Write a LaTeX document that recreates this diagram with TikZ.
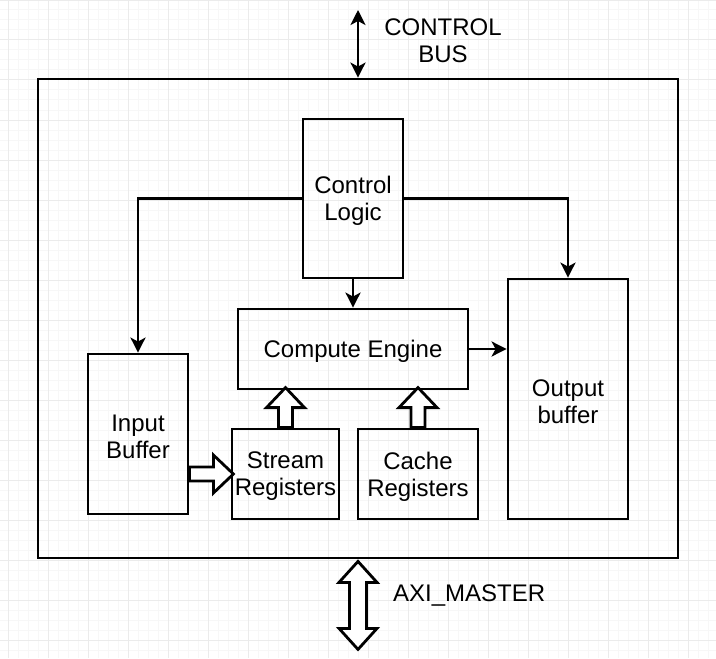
\documentclass[tikz,border=0pt]{standalone}
\usepackage{fontspec}
\setmainfont{Liberation Sans}
\usetikzlibrary{arrows.meta}
\definecolor{minorgrid}{HTML}{F7F7F7}
\definecolor{majorgrid}{HTML}{EBEBEB}
\tikzset{
  lbl/.style={align=center, font=\fontsize{12}{13.5}\selectfont},
  txt/.style={lbl, yshift=-1.3pt},
  blk/.style={draw, line width=1.4pt, inner sep=0pt},
  conn/.style={line width=1.4pt, -{Stealth[length=7.5pt,width=7.5pt,inset=2pt]}},
  pics/blockarrow/.style={code={
    \draw[line width=1.4pt, fill=white] (0,-7) -- (#1-20,-7) -- (#1-20,-19) -- (#1,0)
      -- (#1-20,19) -- (#1-20,7) -- (0,7) -- cycle;}},
  pics/dblockarrow/.style={code={
    \draw[line width=1.4pt, fill=white] (0,0) -- (21,-19) -- (21,-8.5) -- (#1-21,-8.5)
      -- (#1-21,-19) -- (#1,0) -- (#1-21,19) -- (#1-21,8.5) -- (21,8.5) -- (21,19) -- cycle;}}
}
\begin{document}
\begin{tikzpicture}[x=0.5pt,y=-0.5pt]
\useasboundingbox (0,0) rectangle (716,658);
% background grid
\begin{scope}[shift={(8,0)}]
\draw[minorgrid, line width=0.5pt, step=5pt] (-8,0) grid (708,658);
\draw[majorgrid, line width=0.5pt, step=20pt] (-8,0) grid (708,658);
\end{scope}
% blocks
\node[blk, minimum width=320pt, minimum height=239.5pt] (sys) at (358,318.5) {};
\node[blk, minimum width=50pt, minimum height=79.5pt,
  label={[txt]center:Control\\Logic}] (ctrl) at (353,198.5) {};
\node[blk, minimum width=115pt, minimum height=40pt,
  label={[txt]center:Compute Engine}] (ce) at (353,349) {};
\node[blk, minimum width=60pt, minimum height=120pt,
  label={[txt]center:Output\\buffer}] (outb) at (568,399) {};
\node[blk, minimum width=50pt, minimum height=80pt,
  label={[txt]center:Input\\Buffer}] (inb) at (138,434) {};
\node[blk, minimum width=53.5pt, minimum height=45pt,
  label={[txt]center:Stream\\Registers}] (sreg) at (285.5,474) {};
\node[blk, minimum width=60pt, minimum height=45pt,
  label={[txt]center:Cache\\Registers}] (creg) at (418,474) {};
% bus labels
\node[lbl] (cbus) at (443,40.5) {CONTROL\\BUS};
\node[lbl, anchor=west] (axi) at (386,595) {AXI\_MASTER};
\coordinate (cbtop) at (358,10);
% connectors
\draw[line width=1.4pt, {Stealth[length=7.5pt,width=7.5pt,inset=2pt]}-{Stealth[length=7.5pt,width=7.5pt,inset=2pt]}] (cbtop) -- (sys.north);
\draw[conn] (ctrl.west) -| (inb.north);
\draw[conn] (ctrl.east) -| (outb.north);
\draw[conn] (ctrl.south) -- (ce.north);
\draw[conn] (ce.east) -- (outb.west |- ce.east);
% hollow arrows
\pic[rotate=90] at (sreg.north) {blockarrow=40};
\pic[rotate=90] at (creg.north) {blockarrow=40};
\pic at (inb.east |- sreg.west) {blockarrow=44};
\pic[rotate=-90] at ([yshift=-1pt]sys.south) {dblockarrow=88};
\end{tikzpicture}
\end{document}
